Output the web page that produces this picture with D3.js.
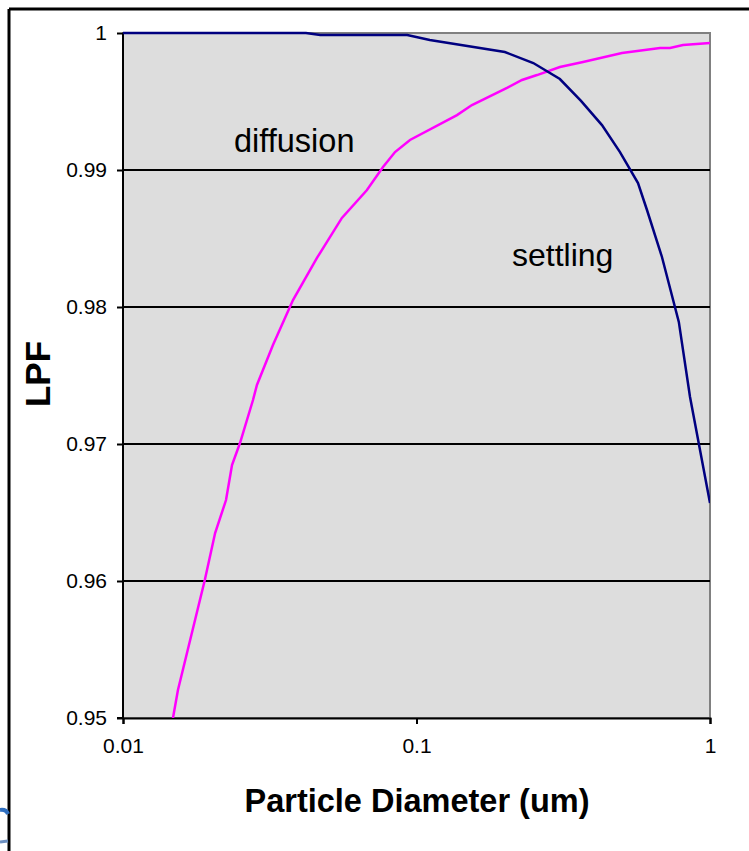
<html>
<head>
<script src="https://d3js.org/d3.v7.min.js"></script>
<style>
body { margin: 0; background: #fff; }
svg { display: block; font-family: 'Liberation Sans', Arial, sans-serif; }
</style>
</head>
<body>
<div id="chart"></div>
<script>
// particle diameter (um) and LPF values
var settlingD = [0.01, 0.042, 0.047, 0.093, 0.111, 0.2, 0.25, 0.308, 0.3635, 0.4285, 0.4935, 0.5685, 0.61, 0.686, 0.783, 0.855, 1.0];
var settlingV = [1.0, 1.0, 0.99985, 0.99985, 0.99949, 0.99861, 0.99781, 0.99664, 0.99504, 0.99328, 0.99131, 0.98905, 0.98708, 0.98365, 0.97891, 0.97343, 0.9657];

var diffusionD = [0.0148, 0.01539, 0.019, 0.0206, 0.02244, 0.02352, 0.02504, 0.02773, 0.0286, 0.03243, 0.03795, 0.0458, 0.0557, 0.0678, 0.0769, 0.0845, 0.095, 0.1374, 0.1545, 0.2034, 0.2288, 0.2574, 0.308, 0.3693, 0.5013, 0.6755, 0.7307, 0.809, 1.0];
var diffusionV = [0.95, 0.95204, 0.96007, 0.9635, 0.96591, 0.96847, 0.97007, 0.97321, 0.97431, 0.97723, 0.98051, 0.98358, 0.9865, 0.98854, 0.99022, 0.99131, 0.99219, 0.99401, 0.99474, 0.99599, 0.99657, 0.99693, 0.99752, 0.99788, 0.99854, 0.99891, 0.99891, 0.99912, 0.99927];

var xTicks = [0.01, 0.1, 1];
var xTickLabels = ["0.01", "0.1", "1"];
var yTicks = [0.95, 0.96, 0.97, 0.98, 0.99, 1];
var yTickLabels = ["0.95", "0.96", "0.97", "0.98", "0.99", "1"];

var svg = d3.select("#chart").append("svg").attr("width", 749).attr("height", 851);

var pl = 123, pr = 710, pt = 33, pb = 718;

var x = d3.scaleLog().domain([0.01, 1]).range([pl, pr]);
var y = d3.scaleLinear().domain([0.95, 1]).range([pb, pt]);

// outer frame (top and left edge only visible)
svg.append("line").attr("x1", 9).attr("y1", 9).attr("x2", 749).attr("y2", 9)
  .attr("stroke", "#000").attr("stroke-width", 3);
svg.append("line").attr("x1", 9).attr("y1", 9).attr("x2", 9).attr("y2", 851)
  .attr("stroke", "#000").attr("stroke-width", 3);

// little bit of a logo sticking out at the bottom left
svg.append("path").attr("d", "M0,810 Q6,809 8,814")
  .attr("fill", "none").attr("stroke", "#2f6fc0").attr("stroke-width", 4);
svg.append("path").attr("d", "M0,842 L8,841")
  .attr("fill", "none").attr("stroke", "#6c8fc0").attr("stroke-width", 3);

// plot area
svg.append("rect").attr("x", pl).attr("y", pt)
  .attr("width", pr - pl).attr("height", pb - pt)
  .attr("fill", "#dddddd").attr("stroke", "#808080").attr("stroke-width", 2);

// gridlines
svg.append("g").selectAll("line")
  .data(yTicks.filter(function(d) { return d > 0.95 && d < 1; }))
  .enter().append("line")
  .attr("x1", pl).attr("x2", pr)
  .attr("y1", function(d) { return y(d); }).attr("y2", function(d) { return y(d); })
  .attr("stroke", "#000").attr("stroke-width", 2);

// axes
var yAxis = svg.append("g").attr("transform", "translate(" + pl + ",0)")
  .call(d3.axisLeft(y).tickValues(yTicks).tickSize(6).tickPadding(10)
    .tickFormat(function(d, i) { return yTickLabels[i]; }));
var xAxis = svg.append("g").attr("transform", "translate(0," + pb + ")")
  .call(d3.axisBottom(x).tickValues(xTicks).tickSize(6).tickPadding(14)
    .tickFormat(function(d, i) { return xTickLabels[i]; }));

[yAxis, xAxis].forEach(function(a) {
  a.select(".domain").attr("stroke", "#000").attr("stroke-width", 2);
  a.selectAll(".tick line").attr("stroke", "#000").attr("stroke-width", 2);
  a.selectAll(".tick text").attr("fill", "#000")
    .style("font-family", "'Liberation Sans', Arial, sans-serif").style("font-size", "21px");
});
// the top border stays grey
yAxis.select(".domain").attr("d", "M-6," + pb + "H0V" + pt);

// curves
svg.append("clipPath").attr("id", "clip").append("rect")
  .attr("x", pl).attr("y", pt - 3).attr("width", pr - pl).attr("height", pb - pt + 3);

var line = d3.line()
  .x(function(d) { return x(d[0]); })
  .y(function(d) { return y(d[1]); });

var diffusion = d3.zip(diffusionD, diffusionV);
var settling = d3.zip(settlingD, settlingV);

svg.append("path").datum(diffusion).attr("d", line).attr("clip-path", "url(#clip)")
  .attr("fill", "none").attr("stroke", "#ff00ff").attr("stroke-width", 2.5);
svg.append("path").datum(settling).attr("d", line).attr("clip-path", "url(#clip)")
  .attr("fill", "none").attr("stroke", "#000080").attr("stroke-width", 2.5);

// labels on the curves
svg.append("text").attr("x", 234).attr("y", 152).style("font-size", "32.5px").text("diffusion");
svg.append("text").attr("x", 512).attr("y", 266).style("font-size", "32px").text("settling");

// axis titles
svg.append("text").attr("x", 417).attr("y", 812).attr("text-anchor", "middle")
  .style("font-size", "32.5px").style("font-weight", "bold").text("Particle Diameter (um)");
svg.append("text").attr("transform", "translate(50,374) rotate(-90)").attr("text-anchor", "middle")
  .style("font-size", "35px").style("font-weight", "bold").text("LPF");
</script>
</body>
</html>
